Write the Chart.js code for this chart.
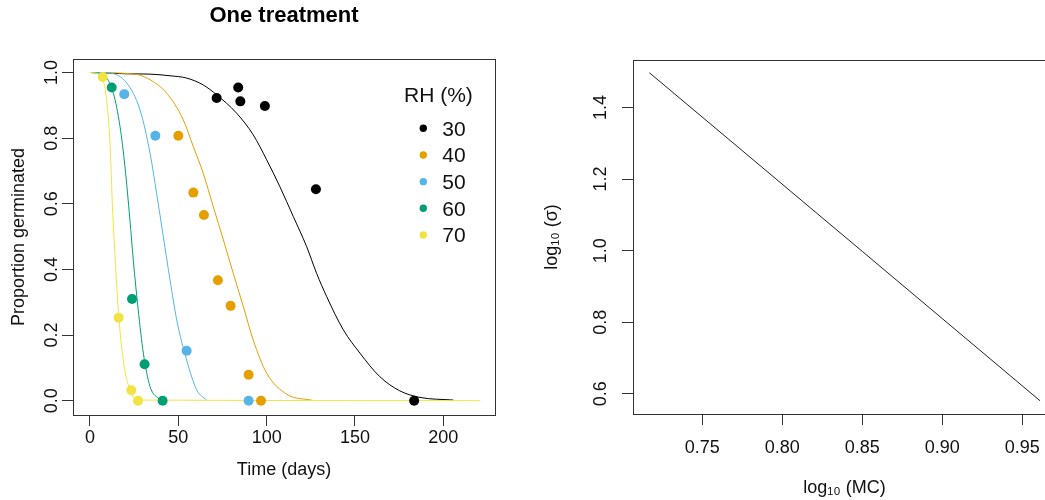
<!DOCTYPE html>
<html><head><meta charset="utf-8">
<script src="https://cdn.jsdelivr.net/npm/chart.js@4.4.1/dist/chart.umd.min.js"></script>
<style>
html,body{margin:0;padding:0;background:#fff;overflow:hidden;width:1045px;height:500px;position:relative;}
#c1{position:absolute;left:0;top:0;}
#c2{position:absolute;left:540px;top:0;}
</style></head><body>
<canvas id="c1" width="540" height="500"></canvas>
<canvas id="c2" width="530" height="500"></canvas>
<script>
// ---------- data (left panel) ----------
const rhLevels = [30, 40, 50, 60, 70];
const rhColors = ['#000000', '#E69F00', '#56B4E9', '#009E73', '#F0E442'];

// observed proportions germinated
const obsDays30 = [71.7, 83.9, 85.1, 99.0, 127.9, 183.5];
const obsProp30 = [0.922, 0.954, 0.912, 0.898, 0.644, 0.0];
const obsDays40 = [50.0, 58.5, 64.5, 72.4, 79.6, 89.8, 96.8];
const obsProp40 = [0.807, 0.634, 0.566, 0.367, 0.289, 0.079, 0.0];
const obsDays50 = [19.4, 37.0, 54.7, 89.8];
const obsProp50 = [0.934, 0.807, 0.152, 0.0];
const obsDays60 = [12.3, 23.8, 30.9, 41.1];
const obsProp60 = [0.954, 0.31, 0.111, 0.0];
const obsDays70 = [7.2, 16.2, 23.4, 27.2];
const obsProp70 = [0.986, 0.253, 0.032, 0.0];

// fitted curves
const fitDays30 = [0, 20.8, 34, 45.3, 54.7, 64.1, 71.7, 83.0, 92.4, 100, 107.5, 115.1, 122.6, 128.3, 134.0, 143.4, 152.8, 164.1, 175.4, 186.8, 205.6];
const fitProp30 = [1.0, 0.996, 0.995, 0.990, 0.983, 0.962, 0.932, 0.876, 0.810, 0.734, 0.652, 0.561, 0.470, 0.388, 0.317, 0.216, 0.145, 0.073, 0.030, 0.010, 0.002];
const fitDays40 = [0, 20.8, 28, 34, 43.4, 52.8, 58.5, 64.1, 69.8, 75.5, 81.1, 86.8, 92.4, 100, 111.3, 126];
const fitProp40 = [1.0, 0.997, 0.992, 0.978, 0.937, 0.856, 0.774, 0.693, 0.591, 0.490, 0.388, 0.287, 0.185, 0.084, 0.020, 0.001];
const fitDays50 = [0, 11.3, 20.8, 28.3, 34, 37.7, 41.5, 45.3, 49.1, 54.7, 60.4, 66];
const fitProp50 = [1.0, 0.998, 0.968, 0.886, 0.754, 0.632, 0.500, 0.368, 0.246, 0.124, 0.033, 0.002];
const fitDays60 = [0, 7.5, 13.2, 17.0, 19.8, 22.6, 24.5, 27.3, 30.2, 34.0, 39.6];
const fitProp60 = [1.0, 0.993, 0.937, 0.835, 0.713, 0.551, 0.429, 0.277, 0.145, 0.043, 0.002];
const fitDays70 = [0, 5.7, 9.4, 11.3, 12.8, 14.3, 16.0, 18.8, 22.6, 26.4, 221];
const fitProp70 = [1.0, 0.993, 0.917, 0.785, 0.581, 0.429, 0.277, 0.124, 0.033, 0.002, 0.0];

const leftXTicks = [0, 50, 100, 150, 200];
const leftXTickLabels = ['0', '50', '100', '150', '200'];
const leftYTicks = [0, 0.2, 0.4, 0.6, 0.8, 1.0];
const leftYTickLabels = ['0.0', '0.2', '0.4', '0.6', '0.8', '1.0'];

// ---------- data (right panel) ----------
const logMC = [0.7169, 0.85, 0.9611];
const logSigma = [1.4973, 0.998, 0.5807];
const rightXTicks = [0.75, 0.80, 0.85, 0.90, 0.95];
const rightXTickLabels = ['0.75', '0.80', '0.85', '0.90', '0.95'];
const rightYTicks = [0.6, 0.8, 1.0, 1.2, 1.4];
const rightYTickLabels = ['0.6', '0.8', '1.0', '1.2', '1.4'];

// ---------- helpers ----------
const FONT = "'Liberation Sans', Arial, Helvetica, sans-serif";
Chart.defaults.font.family = FONT;
Chart.defaults.color = '#111';
const zip = (xs, ys) => xs.map((x, i) => ({x: x, y: ys[i]}));

const obsDays = [obsDays30, obsDays40, obsDays50, obsDays60, obsDays70];
const obsProp = [obsProp30, obsProp40, obsProp50, obsProp60, obsProp70];
const fitDays = [fitDays30, fitDays40, fitDays50, fitDays60, fitDays70];
const fitProp = [fitProp30, fitProp40, fitProp50, fitProp60, fitProp70];

const framePlugin = {
  id: 'frame',
  afterDraw(chart) {
    const {ctx, chartArea: a} = chart;
    ctx.save();
    ctx.strokeStyle = '#333';
    ctx.lineWidth = 1;
    const l = Math.round(a.left) + 0.5, t = Math.round(a.top) + 0.5;
    ctx.strokeRect(l, t, Math.round(a.right) - Math.round(a.left), Math.round(a.bottom) - Math.round(a.top));
    ctx.restore();
  }
};

const rhLegendPlugin = {
  id: 'rhLegend',
  afterDraw(chart) {
    const {ctx, chartArea: a} = chart;
    ctx.save();
    ctx.font = "21px " + FONT;
    ctx.fillStyle = '#111';
    ctx.textBaseline = 'alphabetic';
    ctx.textAlign = 'left';
    ctx.fillText('RH (%)', a.right - 91, 101.7);
    rhLevels.forEach((rh, i) => {
      const cy = 128.3 + i * 26.67;
      ctx.beginPath();
      ctx.fillStyle = rhColors[i];
      ctx.arc(a.right - 71.7, cy, 3.7, 0, Math.PI * 2);
      ctx.fill();
      ctx.fillStyle = '#111';
      ctx.fillText(String(rh), a.right - 52.7, cy + 7.4);
    });
    ctx.restore();
  }
};

function tickAxis(min, max, values, labels, extra) {
  return Object.assign({
    type: 'linear', min: min, max: max,
    afterBuildTicks: s => { s.ticks = values.map(v => ({value: v})); },
    ticks: { callback: (v, i) => labels[i], font: {size: 18}, color: '#111', autoSkip: false, includeBounds: false },
    grid: { drawOnChartArea: false, drawTicks: true, tickLength: 11, color: '#333', lineWidth: 1 },
    border: { display: false }
  }, extra);
}

// ---------- left chart ----------
const leftDatasets = [];
rhLevels.forEach((rh, i) => {
  leftDatasets.push({
    label: 'fit ' + rh, data: zip(fitDays[i], fitProp[i]), showLine: true,
    borderColor: rhColors[i], borderWidth: 1, pointRadius: 0,
    cubicInterpolationMode: 'monotone', order: 20 - i
  });
});
rhLevels.forEach((rh, i) => {
  leftDatasets.push({
    label: String(rh), data: zip(obsDays[i], obsProp[i]), showLine: false,
    backgroundColor: rhColors[i], borderColor: rhColors[i], borderWidth: 0,
    pointRadius: 5, pointStyle: 'circle', order: 4 - i
  });
});

const lx = tickAxis(-9.62, 229.27, leftXTicks, leftXTickLabels, {
  title: { display: true, text: 'Time (days)', font: {size: 18}, color: '#111', padding: {top: 0, bottom: 19.2} },
  afterFit: s => { s.height = 85; }
});
lx.ticks.padding = 1.1;
const ly = tickAxis(-0.0436, 1.0411, leftYTicks, leftYTickLabels, {
  title: { display: true, text: 'Proportion germinated', font: {size: 18}, color: '#111', padding: {top: 8, bottom: 0} },
  afterFit: s => { s.width = 73; }
});
Object.assign(ly.ticks, { minRotation: 90, maxRotation: 90, crossAlign: 'center', padding: -2.7 });

new Chart(document.getElementById('c1'), {
  type: 'scatter',
  data: { datasets: leftDatasets },
  options: {
    responsive: false, animation: false, events: [],
    layout: { padding: { left: 0, right: 45, top: 0, bottom: 0 } },
    plugins: {
      legend: { display: false }, tooltip: { enabled: false },
      title: { display: true, text: 'One treatment', fullSize: false, color: '#000',
               font: { size: 22, weight: 'bold' }, padding: { top: 3.1, bottom: 29.5 } }
    },
    scales: { x: lx, y: ly }
  },
  plugins: [framePlugin, rhLegendPlugin]
});

// ---------- right chart ----------
const rx = tickAxis(0.7067, 0.9711, rightXTicks, rightXTickLabels, {
  title: { display: true, text: 'log\u2081\u2080 (MC)', font: {size: 18}, color: '#111', padding: {top: 0, bottom: 0.8} },
  afterFit: s => { s.height = 86; }
});
rx.ticks.padding = 11.9;
const ry = tickAxis(0.5436, 1.5327, rightYTicks, rightYTickLabels, {
  title: { display: true, text: 'log\u2081\u2080 (\u03c3)', font: {size: 18}, color: '#111', padding: {top: 1.1, bottom: 0} },
  afterFit: s => { s.width = 93; }
});
Object.assign(ry.ticks, { minRotation: 90, maxRotation: 90, crossAlign: 'center', padding: 8.7 });

new Chart(document.getElementById('c2'), {
  type: 'scatter',
  data: { datasets: [{
    label: 'log sigma', data: zip(logMC, logSigma), showLine: true,
    borderColor: '#222', borderWidth: 1, pointRadius: 0
  }] },
  options: {
    responsive: false, animation: false, events: [],
    layout: { padding: { left: 0, right: 14, top: 60, bottom: 0 } },
    plugins: { legend: { display: false }, tooltip: { enabled: false } },
    scales: { x: rx, y: ry }
  },
  plugins: [framePlugin]
});
</script>
</body></html>
